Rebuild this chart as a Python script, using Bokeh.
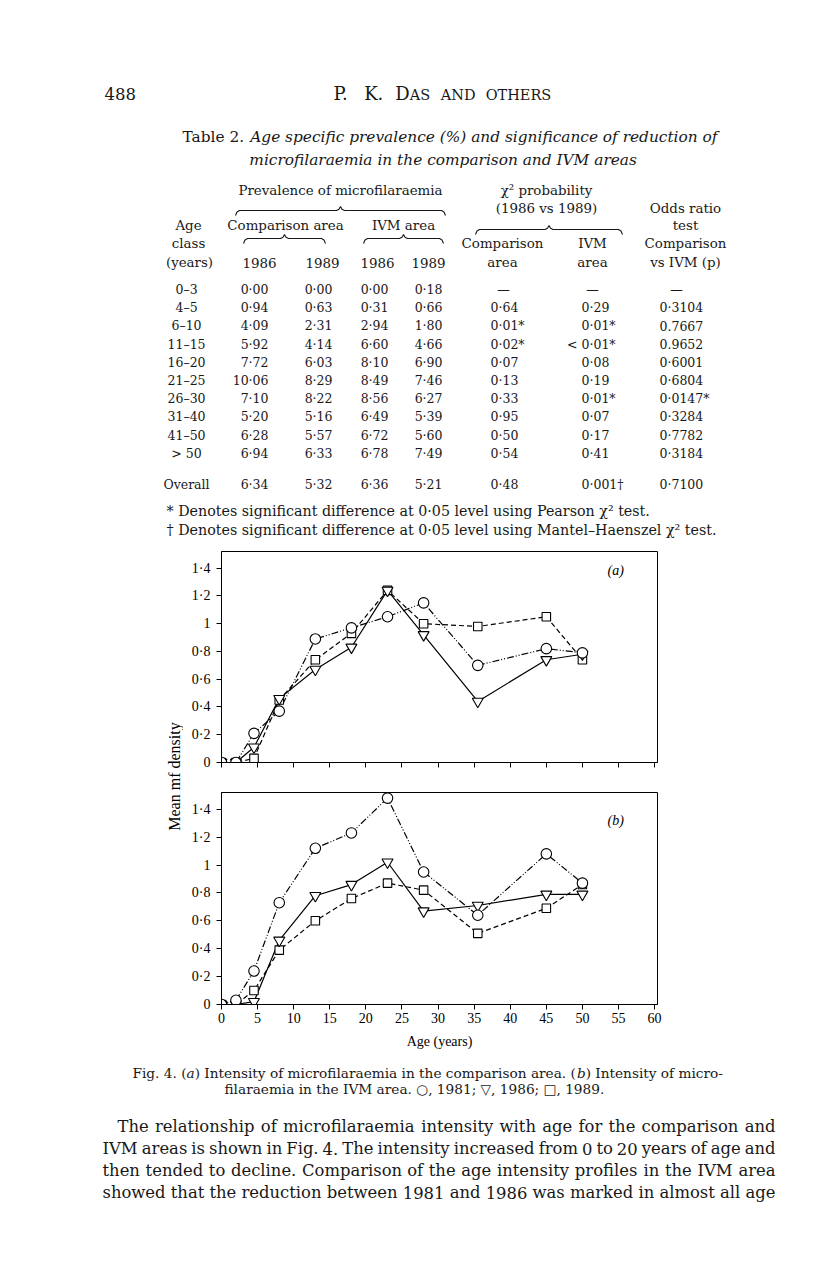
import math
from bokeh.plotting import figure
from bokeh.models import Range1d, FixedTicker, CustomJSTickFormatter, Label
from bokeh.layouts import column, row
from bokeh.embed import file_html
from bokeh.resources import INLINE
from bokeh.core.properties import value

# ---------------- chart data ----------------
ages = [0, 2, 4.5, 8, 13, 18, 23, 28, 35.5, 45, 50]
comp_1981 = [0, 0, 0.21, 0.37, 0.89, 0.97, 1.05, 1.15, 0.70, 0.82, 0.79]
comp_1986 = [0, 0, 0.11, 0.46, 0.67, 0.83, 1.24, 0.92, 0.44, 0.74, 0.78]
comp_1989 = [0, 0, 0.03, 0.45, 0.74, 0.93, 1.24, 1.00, 0.98, 1.05, 0.74]
ivm_1981 = [0, 0.03, 0.24, 0.73, 1.12, 1.23, 1.48, 0.95, 0.64, 1.08, 0.87]
ivm_1986 = [0, 0, 0.02, 0.46, 0.78, 0.86, 1.02, 0.67, 0.71, 0.79, 0.79]
ivm_1989 = [0, 0, 0.10, 0.39, 0.60, 0.76, 0.87, 0.82, 0.51, 0.69, 0.86]
x_ticks = [0, 5, 10, 15, 20, 25, 30, 35, 40, 45, 50, 55, 60]
y_ticks = [0, 0.2, 0.4, 0.6, 0.8, 1.0, 1.2, 1.4]

# ---------------- table data ----------------
age_classes = ["0–3", "4–5", "6–10", "11–15", "16–20", "21–25", "26–30", "31–40", "41–50", "> 50", "Overall"]
comp_86 = ["0·00", "0·94", "4·09", "5·92", "7·72", "10·06", "7·10", "5·20", "6·28", "6·94", "6·34"]
comp_89 = ["0·00", "0·63", "2·31", "4·14", "6·03", "8·29", "8·22", "5·16", "5·57", "6·33", "5·32"]
ivm_86 = ["0·00", "0·31", "2·94", "6·60", "8·10", "8·49", "8·56", "6·49", "6·72", "6·78", "6·36"]
ivm_89 = ["0·18", "0·66", "1·80", "4·66", "6·90", "7·46", "6·27", "5·39", "5·60", "7·49", "5·21"]
chi_comp = ["—", "0·64", "0·01*", "0·02*", "0·07", "0·13", "0·33", "0·95", "0·50", "0·54", "0·48"]
chi_ivm = ["—", "0·29", "0·01*", "< 0·01*", "0·08", "0·19", "0·01*", "0·07", "0·17", "0·41", "0·001†"]
odds_p = ["—", "0·3104", "0.7667", "0.9652", "0·6001", "0·6804", "0·0147*", "0·3284", "0·7782", "0·3184", "0·7100"]

SERIF = "DejaVu Serif"
CHART_FONT = "Liberation Serif"
INK = "#181818"

# approximate advance widths (em) of DejaVu Serif, used for layout of text runs
W = {' ': .318, 'a': .596, 'b': .640, 'c': .560, 'd': .640, 'e': .592, 'f': .370, 'g': .640, 'h': .644,
     'i': .320, 'j': .310, 'k': .606, 'l': .320, 'm': .948, 'n': .644, 'o': .602, 'p': .640, 'q': .640,
     'r': .478, 's': .513, 't': .402, 'u': .644, 'v': .565, 'w': .856, 'x': .564, 'y': .565, 'z': .527,
     'A': .722, 'B': .735, 'C': .720, 'D': .802, 'E': .729, 'F': .693, 'G': .807, 'H': .872, 'I': .436,
     'J': .430, 'K': .765, 'L': .667, 'M': .995, 'N': .837, 'O': .820, 'P': .733, 'Q': .820, 'R': .770,
     'S': .685, 'T': .668, 'U': .812, 'V': .722, 'W': 1.03, 'X': .716, 'Y': .666, 'Z': .694,
     '.': .318, ',': .318, ';': .337, ':': .337, '-': .338, '(': .390, ')': .390, '%': .947, '*': .500,
     '·': .318, '–': .500, '—': 1.0, '†': .500, '<': .838, '>': .838, '²': .401, 'χ': .600,
     '○': .87, '▽': .77, '□': .77}
for d in "0123456789":
    W[d] = .636


def tw(s):
    return sum(W.get(ch, .62) for ch in s)


def canvas(width, height, x0, y0):
    f = figure(width=width, height=height, x_range=Range1d(x0, x0 + width), y_range=Range1d(y0 + height, y0),
               x_axis_type=None, y_axis_type=None, output_backend="svg", toolbar_location=None,
               min_border=0, outline_line_color=None)
    return f


def put(f, x, y, s, size, align="left", style="normal", font=SERIF, color=INK, angle=0.0):
    f.text(x=[x], y=[y], text=[s], text_font=value(font), text_font_size=f"{size:.2f}px",
           text_align=align, text_baseline="middle", text_font_style=style, text_color=color, angle=angle)


def runs(f, x, y, pieces, size, align="left"):
    total = sum(tw(t) * size for t, _ in pieces)
    if align == "center":
        x -= total / 2
    elif align == "right":
        x -= total
    for t, st in pieces:
        put(f, x, y, t, size, style=st)
        x += tw(t) * size


def brace(f, x0, x1, y, depth=5, tip=4):
    xm = (x0 + x1) / 2
    xs = [x0, x0 + 1.5, x0 + 4, xm - 4, xm - 1.5, xm, xm + 1.5, xm + 4, x1 - 4, x1 - 1.5, x1]
    ys = [y + depth, y + 1.5, y, y, y - 1.2, y - tip, y - 1.2, y, y, y + 1.5, y + depth]
    f.line(xs, ys, line_color=INK, line_width=1.1)


def justify(f, x0, x1, y, line, size):
    words = line.split(" ")
    widths = [tw(w) * size for w in words]
    gap = (x1 - x0 - sum(widths)) / (len(words) - 1)
    x = x0
    for i, (w, wd) in enumerate(zip(words, widths)):
        if i == len(words) - 1:
            put(f, x1, y, w, size, align="right")
        else:
            put(f, x, y, w, size)
        x += wd + gap


# ================= top of page: header + Table 2 =================
TOP_H = 545
top = canvas(800, TOP_H, 0, 0)
put(top, 104, 93, "488", 16.5)
# running head in capitals and small capitals
head = [("P.", 18, True), ("K.", 18, True), ("D", 18, False), ("AS", 14.5, True), ("AND", 14.5, True), ("OTHERS", 14.5, True)]
hx = 333
for t, sz, gap_after in head:
    put(top, hx, 93 if sz > 15 else 94, t, sz)
    hx += tw(t) * sz + ((0.318 * sz + 6) if gap_after else 0)

cap1 = [("Table 2. ", "normal"), ("Age specific prevalence (%) and significance of reduction of", "italic")]
cap_size = (718 - 182) / sum(tw(t) for t, _ in cap1)
runs(top, 182, 136, cap1, cap_size)
runs(top, 443, 159, [("microfilaraemia in the comparison and IVM areas", "italic")], cap_size, align="center")

HS = 13.4
header = [
    ("Prevalence of microfilaraemia", 340, 190), ("χ² probability", 546, 190),
    ("(1986 vs 1989)", 546, 208), ("Odds ratio", 685, 208),
    ("Age", 188, 225), ("Comparison area", 285, 225), ("IVM area", 403, 225), ("test", 685, 225),
    ("class", 188, 243), ("Comparison", 502, 243), ("IVM", 592, 243), ("Comparison", 685, 243),
    ("(years)", 189, 262), ("1986", 259, 262), ("1989", 322, 262), ("1986", 377, 262), ("1989", 428, 262),
    ("area", 502, 262), ("area", 592, 262), ("vs IVM (p)", 685, 262),
]
for t, x, y in header:
    put(top, x, y, t, HS, align="center")
brace(top, 235, 445, 210)
brace(top, 475, 622, 229)
brace(top, 243, 325, 238)
brace(top, 363, 443, 238)

TS = 12.5
row_y = [289 + 18.2 * i for i in range(10)] + [484]
for i, y in enumerate(row_y):
    put(top, 186, y, age_classes[i], TS, align="center")
    put(top, 268, y, comp_86[i], TS, align="right")
    put(top, 332, y, comp_89[i], TS, align="right")
    put(top, 388, y, ivm_86[i], TS, align="right")
    put(top, 442, y, ivm_89[i], TS, align="right")
    if chi_comp[i] == "—":
        put(top, 503, y, chi_comp[i], TS, align="center")
    else:
        put(top, 490, y, chi_comp[i], TS)
    if chi_ivm[i] == "—":
        put(top, 592, y, chi_ivm[i], TS, align="center")
    elif chi_ivm[i].startswith("<"):
        put(top, 577, y, "<", TS, align="right")
        put(top, 581, y, chi_ivm[i][2:], TS)
    else:
        put(top, 581, y, chi_ivm[i], TS)
    if odds_p[i] == "—":
        put(top, 676, y, odds_p[i], TS, align="center")
    else:
        put(top, 659, y, odds_p[i], TS)

fn1 = "* Denotes significant difference at 0·05 level using Pearson χ² test."
fn2 = "† Denotes significant difference at 0·05 level using Mantel–Haenszel χ² test."
fn_size = (652 - 166) / tw(fn1)
put(top, 166, 510, fn1, fn_size)
put(top, 166, 529, fn2, fn_size)

# ================= charts =================
LAB_W = 183          # width of the strip holding the shared y-axis title
CH_W = 800 - LAB_W   # chart canvases
FRAME_L, FRAME_R = 221, 657


def y_formatter():
    return CustomJSTickFormatter(code="""
        if (Math.abs(tick) < 1e-9) return '0';
        if (Math.abs(tick - 1) < 1e-9) return '1';
        return tick.toFixed(1).replace('.', '·');
    """)


def chart(s81, s86, s89, tag, tag_y, height, b_top, b_bottom, xlabels):
    p = figure(width=CH_W, height=height, x_range=Range1d(0, 60.4), y_range=Range1d(0, 1.52),
               output_backend="svg", toolbar_location=None,
               min_border_left=FRAME_L - LAB_W, min_border_right=800 - FRAME_R,
               min_border_top=b_top, min_border_bottom=b_bottom)
    p.grid.visible = False
    p.outline_line_color = "black"
    p.outline_line_width = 1
    p.outline_line_alpha = 1.0
    p.xaxis.ticker = FixedTicker(ticks=x_ticks)
    p.yaxis.ticker = FixedTicker(ticks=y_ticks)
    for ax in (p.xaxis[0], p.yaxis[0]):
        ax.axis_line_color = "black"
        ax.axis_line_width = 1
        ax.major_tick_line_color = "black"
        ax.major_tick_in = 0
        ax.major_tick_out = 5
        ax.minor_tick_line_color = None
        ax.major_label_text_font = CHART_FONT
        ax.major_label_text_font_size = "14px"
        ax.major_label_text_color = "black"
    p.yaxis.major_label_standoff = 6
    p.yaxis.formatter = y_formatter()
    if xlabels:
        p.xaxis.major_label_standoff = 3
        p.xaxis.axis_label = "Age (years)"
        p.xaxis.axis_label_text_font = CHART_FONT
        p.xaxis.axis_label_text_font_size = "14px"
        p.xaxis.axis_label_text_font_style = "normal"
        p.xaxis.axis_label_text_color = "black"
        p.xaxis.axis_label_standoff = 8
    else:
        p.xaxis.formatter = CustomJSTickFormatter(code="return '';")
        p.xaxis.major_label_text_font_size = "1px"
        p.xaxis.major_label_standoff = 0

    p.line(ages, s81, line_color="black", line_width=1.2, line_dash="7 2 1 2 1 2")
    p.line(ages, s86, line_color="black", line_width=1.2)
    p.line(ages, s89, line_color="black", line_width=1.2, line_dash="5 3")
    p.scatter(ages, s89, marker="square", size=8.5, fill_color="white", line_color="black", line_width=1.1)
    p.scatter(ages, s86, marker="inverted_triangle", size=11, fill_color="white", line_color="black", line_width=1.1)
    p.scatter(ages, s81, marker="circle", size=10.5, fill_color="white", line_color="black", line_width=1.1)

    p.add_layout(Label(x=54.6, y=tag_y, text=tag, text_font=CHART_FONT, text_font_style="italic",
                       text_font_size="14px", text_align="center", text_baseline="middle", text_color="black"))
    return p


A_H, B_H = 232, 278
chart_a = chart(comp_1981, comp_1986, comp_1989, "(a)", 1.383, A_H, 6, 15, False)
chart_b = chart(ivm_1981, ivm_1986, ivm_1989, "(b)", 1.32, B_H, 15, 51, True)

lab = canvas(LAB_W, A_H + B_H, 0, TOP_H)
put(lab, 174, 776, "Mean mf density", 16, align="center", font=CHART_FONT, color="black", angle=math.pi / 2)

# ================= bottom: figure caption + body text =================
BOT_Y = TOP_H + A_H + B_H
bot = canvas(800, 1245 - BOT_Y, 0, BOT_Y)
capA = [("Fig. 4. (", "normal"), ("a", "italic"), (") Intensity of microfilaraemia in the comparison area. (", "normal"),
        ("b", "italic"), (") Intensity of micro-", "normal")]
capB = [("filaraemia in the IVM area. ○, 1981; ▽, 1986; □, 1989.", "normal")]
fig_cap_size = (723 - 132) / sum(tw(t) for t, _ in capA)
runs(bot, 132, 1072, capA, fig_cap_size)
runs(bot, 413, 1088, capB, fig_cap_size, align="center")

body = [
    "The relationship of microfilaraemia intensity with age for the comparison and",
    "IVM areas is shown in Fig. 4. The intensity increased from 0 to 20 years of age and",
    "then tended to decline. Comparison of the age intensity profiles in the IVM area",
    "showed that the reduction between 1981 and 1986 was marked in almost all age",
]
body_x0 = [117, 102, 102, 102]
body_y = [1126, 1148, 1170, 1192]
body_size = min((775 - x0 - 4.0 * (len(l.split(" ")) - 1)) / sum(tw(w) for w in l.split(" "))
                for l, x0 in zip(body, body_x0))
for l, x0, y in zip(body, body_x0, body_y):
    justify(bot, x0, 775, y, l, body_size)

page = column(top, row(lab, column(chart_a, chart_b, spacing=0), spacing=0), bot, spacing=0)
open("out.html", "w").write(file_html(page, INLINE))
